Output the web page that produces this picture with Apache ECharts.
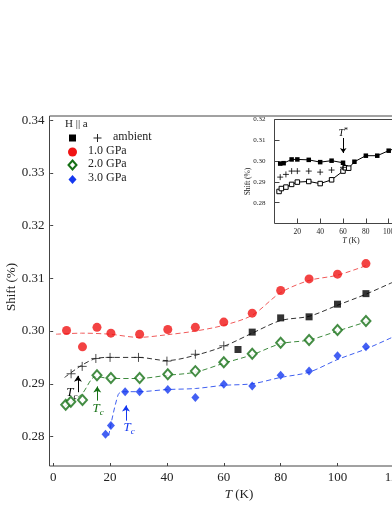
<!DOCTYPE html>
<html>
<head>
<meta charset="utf-8">
<script src="https://cdn.jsdelivr.net/npm/echarts@6/dist/echarts.min.js"></script>
<style>
  html, body { margin: 0; padding: 0; background: #fff; }
  #chart { width: 392px; height: 508px; }
</style>
</head>
<body>
<div id="chart"></div>
<script>
// 数据：主图
var ambientSquares = [[65, 0.2965], [70, 0.2998], [80, 0.3025], [90, 0.3027], [100, 0.3051], [110, 0.3071]];
var ambientCrosses = [[6.3, 0.2919], [10.2, 0.2933], [15, 0.2948], [20, 0.2950], [30, 0.2950], [40, 0.2943], [50, 0.2956], [60, 0.2972]];
var ambientFit = [[4, 0.2912], [10, 0.2935], [15, 0.2948], [20, 0.2950], [30, 0.2950], [40, 0.2944], [50, 0.2954], [60, 0.2971], [70, 0.2996], [80, 0.3020], [90, 0.3028], [100, 0.3049], [110, 0.3070], [120, 0.3094]];

var gpa1 = [[4.7, 0.3001], [10.3, 0.2970], [15.4, 0.3007], [20.3, 0.2996], [30.4, 0.2994], [40.3, 0.3003], [50, 0.3007], [60, 0.3017], [70, 0.3034], [80, 0.3077], [90, 0.3099], [100, 0.3108], [110, 0.3128]];
var gpa1Fit = [[1, 0.2994], [10, 0.2996], [20, 0.2994], [30, 0.2988], [40, 0.2993], [50, 0.3000], [60, 0.3011], [70, 0.3030], [80, 0.3073], [90, 0.3096], [100, 0.3106], [110.5, 0.3125]];

var gpa2 = [[4.4, 0.2860], [6.2, 0.2866], [10.3, 0.2869], [15.4, 0.2916], [20.3, 0.2911], [30.4, 0.2911], [40.3, 0.2918], [50, 0.2924], [60, 0.2941], [70, 0.2957], [80, 0.2978], [90, 0.2983], [100, 0.3002], [110, 0.3019]];
var gpa2Fit = [[4, 0.2857], [10, 0.2880], [15, 0.2914], [20, 0.2910], [30, 0.2910], [40, 0.2916], [50, 0.2922], [60, 0.2939], [70, 0.2955], [80, 0.2976], [90, 0.2983], [100, 0.3000], [111, 0.3019]];

var gpa3 = [[18.4, 0.2804], [20.3, 0.2821], [25.3, 0.2885], [30.4, 0.2885], [40.3, 0.2889], [50, 0.2874], [60, 0.2899], [70, 0.2896], [80, 0.2916], [90, 0.2924], [100, 0.2953], [110, 0.2970]];
var gpa3Fit = [[19.5, 0.2801], [22.9, 0.2880], [25, 0.2885], [30, 0.2885], [40, 0.2889], [50, 0.2891], [60, 0.2897], [70, 0.2900], [80, 0.2912], [90, 0.2922], [100, 0.2946], [110, 0.2966], [120, 0.2990]];

// 数据：插图
var insetFilled = [[5, 0.2988], [8, 0.2990], [15, 0.3008], [20, 0.3008], [30, 0.3006], [40, 0.2995], [50, 0.3002], [60, 0.2992], [65, 0.2966], [70, 0.2997], [80, 0.3026], [90, 0.3026], [100, 0.3050], [110, 0.3070]];
var insetOpen = [[4, 0.2854], [6, 0.2868], [10, 0.2875], [15, 0.2888], [20, 0.2899], [30, 0.2902], [40, 0.2892], [50, 0.2910], [60, 0.2952], [62, 0.2968], [65, 0.2966]];
var insetCrosses = [[5, 0.2923], [10, 0.2936], [15, 0.2952], [20, 0.2952], [30, 0.2952], [40, 0.2947], [50, 0.2957], [60, 0.2970]];

var xTicks = [0, 20, 40, 60, 80, 100, 120];
var yTicks = [0.28, 0.29, 0.30, 0.31, 0.32, 0.33, 0.34];

var FONT = "'Liberation Serif', 'Times New Roman', serif";
var INK = '#222';
var AXIS = '#444';
var RED = '#f01414';
var GREEN = '#157015';
var BLUE = '#1438f0';
var CROSS = 'path://M0,-1L0,1M-1,0L1,0';

var chart = echarts.init(document.getElementById('chart'));

function fit(data, color, idx) {
    return {
        type: 'line', data: data, smooth: 0.3, symbol: 'none',
        xAxisIndex: idx, yAxisIndex: idx, z: 2,
        lineStyle: { color: color, width: 1, type: [5, 3] }
    };
}

var tcLabel = {
    show: true, position: 'inside', formatter: '{i|T}{s|c}',
    rich: {
        i: { fontFamily: FONT, fontStyle: 'italic', fontSize: 13 },
        s: { fontFamily: FONT, fontStyle: 'italic', fontSize: 9, padding: [8, 0, 0, 0] }
    }
};

var option = {
    animation: false,
    textStyle: { fontFamily: FONT },
    grid: [
        { left: 49.5, top: 116, width: 379, height: 350, outerBoundsMode: 'none', containLabel: false, show: true, borderColor: AXIS, borderWidth: 1 },
        { left: 274.5, top: 119.5, width: 153, height: 104, outerBoundsMode: 'none', containLabel: false, show: true, borderColor: AXIS, borderWidth: 1, backgroundColor: '#fff', z: 5 }
    ],
    xAxis: [
        {
            type: 'value', gridIndex: 0, min: -1.3, max: 132,
            name: '{i|T} (K)', nameLocation: 'middle', nameGap: 22, nameMoveOverlap: false,
            nameTextStyle: { fontSize: 13, color: INK, rich: { i: { fontStyle: 'italic', fontSize: 13, fontFamily: FONT } } },
            axisLine: { show: false },
            axisTick: { inside: true, length: 3, customValues: xTicks, lineStyle: { color: AXIS } },
            axisLabel: { fontSize: 13, color: INK, margin: 5, customValues: xTicks },
            splitLine: { show: false }
        },
        {
            type: 'value', gridIndex: 1, min: 0, max: 134, interval: 20,
            name: '{i|T} (K)', nameLocation: 'middle', nameGap: 13, nameMoveOverlap: false,
            nameTextStyle: { fontSize: 8, color: INK, rich: { i: { fontStyle: 'italic', fontSize: 8, fontFamily: FONT } } },
            axisLine: { show: false },
            axisTick: { inside: true, length: 5, lineStyle: { color: AXIS } },
            axisLabel: { fontSize: 7.5, color: INK, margin: 5, showMinLabel: false },
            splitLine: { show: false }, z: 6
        }
    ],
    yAxis: [
        {
            type: 'value', gridIndex: 0, min: 0.2744, max: 0.3408,
            name: 'Shift (%)', nameLocation: 'middle', nameGap: 31, nameMoveOverlap: false,
            nameTextStyle: { fontSize: 13, color: INK, padding: [0, 0, 0, 8] },
            axisLine: { show: false },
            axisTick: { length: 3, customValues: yTicks, lineStyle: { color: AXIS } },
            axisLabel: { fontSize: 13, color: INK, margin: 5, customValues: yTicks, formatter: function (v) { return v.toFixed(2); } },
            splitLine: { show: false }
        },
        {
            type: 'value', gridIndex: 1, min: 0.27, max: 0.32, interval: 0.01,
            name: 'Shift (%)', nameLocation: 'middle', nameGap: 22, nameMoveOverlap: false,
            nameTextStyle: { fontSize: 7.5, color: INK, padding: [0, 20, 0, 0] },
            axisLine: { show: false },
            axisTick: { inside: true, length: 5, lineStyle: { color: AXIS } },
            axisLabel: { fontSize: 7, color: INK, margin: 9, showMinLabel: false, formatter: function (v) { return v.toFixed(2); } },
            splitLine: { show: false }, z: 6
        }
    ],
    series: [
        fit(gpa1Fit, '#f05a5a', 0),
        fit(ambientFit, '#333', 0),
        fit(gpa2Fit, '#3d8a3d', 0),
        fit(gpa3Fit, '#4060f0', 0),
        {
            name: '1.0 GPa', type: 'scatter', data: gpa1, symbol: 'circle', symbolSize: 9, z: 3,
            itemStyle: { color: RED }
        },
        {
            name: 'ambient', type: 'scatter', data: ambientSquares, symbol: 'rect', symbolSize: 7, z: 3,
            itemStyle: { color: '#000' }
        },
        {
            name: 'ambient+', type: 'scatter', data: ambientCrosses, symbol: CROSS, symbolSize: 9, z: 3,
            itemStyle: { color: 'none', borderColor: '#222', borderWidth: 1 },
            markLine: {
                silent: true, symbol: ['none', 'arrow'], symbolSize: 6, label: { show: false },
                lineStyle: { type: 'solid', width: 1 },
                data: [
                    [{ coord: [8.7, 0.2884], lineStyle: { color: '#000' }, itemStyle: { color: '#000' } }, { coord: [8.7, 0.2915] }],
                    [{ coord: [15.5, 0.2868], lineStyle: { color: GREEN }, itemStyle: { color: GREEN } }, { coord: [15.5, 0.2895] }],
                    [{ coord: [25.6, 0.2830], lineStyle: { color: BLUE }, itemStyle: { color: BLUE } }, { coord: [25.6, 0.2859] }]
                ]
            },
            markPoint: {
                silent: true, symbol: 'circle', symbolSize: 0,
                data: [
                    { coord: [6.6, 0.2884], label: Object.assign({}, tcLabel, { color: '#000' }) },
                    { coord: [15.8, 0.2852], label: Object.assign({}, tcLabel, { color: GREEN }) },
                    { coord: [26.7, 0.2816], label: Object.assign({}, tcLabel, { color: BLUE }) }
                ]
            }
        },
        {
            name: '2.0 GPa', type: 'scatter', data: gpa2, symbol: 'diamond', symbolSize: [9, 10], z: 3,
            itemStyle: { color: '#fff', borderColor: GREEN, borderWidth: 2 }
        },
        {
            name: '3.0 GPa', type: 'scatter', data: gpa3, symbol: 'diamond', symbolSize: [8, 9], z: 3,
            itemStyle: { color: BLUE }
        },
        // 插图
        {
            type: 'line', data: insetFilled, xAxisIndex: 1, yAxisIndex: 1, symbol: 'rect', symbolSize: 4.5, z: 7,
            lineStyle: { color: '#000', width: 1 }, itemStyle: { color: '#000' },
            markLine: {
                silent: true, symbol: ['none', 'arrow'], symbolSize: 5, label: { show: false },
                lineStyle: { type: 'solid', width: 1, color: '#000' },
                data: [[{ coord: [60.2, 0.3111] }, { coord: [60.2, 0.3039] }]]
            },
            markPoint: {
                silent: true, symbol: 'circle', symbolSize: 0,
                data: [{
                    coord: [60.2, 0.3135],
                    label: {
                        show: true, position: 'inside', color: '#000', formatter: '{i|T}{s|*}',
                        rich: {
                            i: { fontFamily: FONT, fontStyle: 'italic', fontSize: 10 },
                            s: { fontFamily: FONT, fontSize: 8, padding: [0, 0, 4, 0] }
                        }
                    }
                }]
            }
        },
        {
            type: 'line', data: insetOpen, xAxisIndex: 1, yAxisIndex: 1, symbol: 'rect', symbolSize: 4.5, z: 7,
            showAllSymbol: true,
            lineStyle: { color: '#000', width: 1 }, itemStyle: { color: '#fff', borderColor: '#000', borderWidth: 1 }
        },
        {
            type: 'scatter', data: insetCrosses, xAxisIndex: 1, yAxisIndex: 1, symbol: CROSS, symbolSize: 6, z: 7,
            itemStyle: { color: 'none', borderColor: '#000', borderWidth: 1 }
        }
    ],
    graphic: [
        { type: 'text', left: 65, top: 119, style: { text: 'H || a', font: '11px ' + FONT, fill: INK } },
        { type: 'rect', shape: { x: 69, y: 134.5, width: 7, height: 7 }, style: { fill: '#000' } },
        { type: 'group', children: [
            { type: 'line', shape: { x1: 97.5, y1: 134, x2: 97.5, y2: 142 }, style: { stroke: '#222', lineWidth: 1 } },
            { type: 'line', shape: { x1: 93.5, y1: 138, x2: 101.5, y2: 138 }, style: { stroke: '#222', lineWidth: 1 } }
        ] },
        { type: 'text', left: 113, top: 131, style: { text: 'ambient', font: '12px ' + FONT, fill: INK } },
        { type: 'circle', shape: { cx: 72.5, cy: 152, r: 4.5 }, style: { fill: RED } },
        { type: 'text', left: 88, top: 145, style: { text: '1.0 GPa', font: '12px ' + FONT, fill: INK } },
        { type: 'polygon', shape: { points: [[72.5, 160.5], [76.5, 165], [72.5, 169.5], [68.5, 165]] }, style: { fill: '#fff', stroke: GREEN, lineWidth: 2 } },
        { type: 'text', left: 88, top: 158, style: { text: '2.0 GPa', font: '12px ' + FONT, fill: INK } },
        { type: 'polygon', shape: { points: [[72.5, 175], [76.5, 179.5], [72.5, 184], [68.5, 179.5]] }, style: { fill: BLUE } },
        { type: 'text', left: 88, top: 172, style: { text: '3.0 GPa', font: '12px ' + FONT, fill: INK } }
    ]
};

chart.setOption(option);
</script>
</body>
</html>
